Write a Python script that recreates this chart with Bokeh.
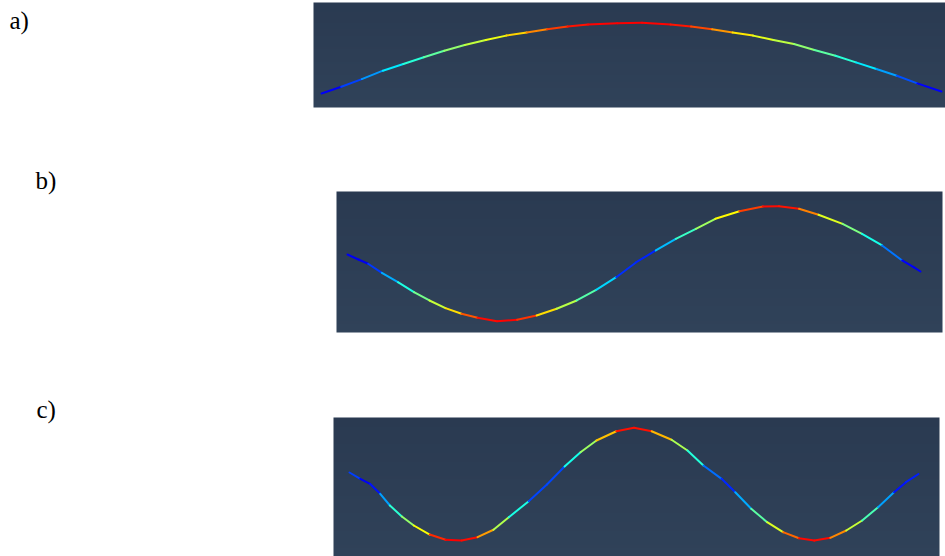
import numpy as np
from bokeh.plotting import figure
from bokeh.models import Range1d
from bokeh.core.properties import value
from bokeh.embed import file_html
from bokeh.resources import INLINE

# Mode shapes of a vibrating string, sampled along its length.
# station: position along the string (0 = left end, 1 = right end)
# deflection: vertical displacement, scaled so the largest is about 1
STATION_A = [0.000, 0.032, 0.065, 0.099, 0.132, 0.165, 0.198, 0.231, 0.265, 0.298,
             0.331, 0.364, 0.397, 0.430, 0.477, 0.517, 0.563, 0.596, 0.630, 0.663,
             0.696, 0.729, 0.762, 0.795, 0.829, 0.862, 0.895, 0.928, 0.961, 1.000]
DEFLECTION_A = [0.000, 0.096, 0.206, 0.326, 0.421, 0.517, 0.611, 0.693, 0.764, 0.827,
                0.870, 0.917, 0.956, 0.984, 1.004, 1.009, 0.984, 0.956, 0.917, 0.870,
                0.827, 0.764, 0.707, 0.621, 0.540, 0.444, 0.350, 0.254, 0.144, 0.029]
REST_A = [0.0, 0.03]

STATION_B = [0.000, 0.019, 0.036, 0.060, 0.088, 0.116, 0.143, 0.171, 0.199, 0.227,
             0.261, 0.296, 0.330, 0.365, 0.400, 0.434, 0.469, 0.504, 0.538, 0.573,
             0.608, 0.642, 0.684, 0.725, 0.753, 0.788, 0.822, 0.864, 0.898, 0.933,
             0.968, 0.988, 1.000]
DEFLECTION_B = [0.082, 0.000, -0.070, -0.218, -0.372, -0.536, -0.672, -0.798, -0.890, -0.956,
                -1.011, -0.989, -0.918, -0.808, -0.672, -0.497, -0.290, -0.044, 0.148, 0.339,
                0.503, 0.667, 0.792, 0.869, 0.874, 0.831, 0.733, 0.585, 0.421, 0.230,
                -0.016, -0.126, -0.197]
REST_B = [0.0, -0.115]

STATION_C = [0.000, 0.019, 0.036, 0.054, 0.071, 0.092, 0.113, 0.141, 0.169, 0.197,
             0.225, 0.253, 0.280, 0.315, 0.347, 0.378, 0.406, 0.434, 0.469, 0.500,
             0.531, 0.566, 0.594, 0.622, 0.654, 0.678, 0.706, 0.734, 0.762, 0.790,
             0.817, 0.845, 0.873, 0.901, 0.929, 0.957, 0.978, 1.000]
DEFLECTION_C = [0.158, 0.047, -0.040, -0.216, -0.421, -0.614, -0.772, -0.930, -1.023, -1.035,
                -0.977, -0.847, -0.626, -0.346, -0.053, 0.263, 0.514, 0.719, 0.882, 0.942,
                0.882, 0.732, 0.544, 0.281, 0.047, -0.188, -0.479, -0.714, -0.889, -0.995,
                -1.035, -0.988, -0.860, -0.684, -0.451, -0.188, -0.012, 0.132]
REST_C = [-0.045, -0.045]

PANEL_LABELS = ["a)", "b)", "c)"]

W, H = 945, 556
FONT = "Liberation Serif"

# colour scale: relative amplitude -> position on the jet colour map
AMP_STOPS = [0.0, 0.10, 0.40, 0.62, 0.82, 0.95, 1.0]
JET_STOPS = [0.09, 0.15, 0.375, 0.50, 0.625, 0.85, 0.88]


def jet(t):
    t = float(np.clip(t, 0.0, 1.0))
    r = np.clip(1.5 - abs(4 * t - 3), 0, 1)
    g = np.clip(1.5 - abs(4 * t - 2), 0, 1)
    b = np.clip(1.5 - abs(4 * t - 1), 0, 1)
    return "#%02x%02x%02x" % (int(r * 255), int(g * 255), int(b * 255))


def gradient(top, bottom, n):
    top = np.array([int(top[i:i + 2], 16) for i in (1, 3, 5)], dtype=float)
    bottom = np.array([int(bottom[i:i + 2], 16) for i in (1, 3, 5)], dtype=float)
    img = np.zeros((n, 1), dtype=np.uint32)
    view = img.view(dtype=np.uint8).reshape((n, 1, 4))
    for k in range(n):
        f = k / max(n - 1, 1)  # row 0 is the bottom of the panel
        c = bottom + (top - bottom) * f
        view[k, 0, 0:3] = np.round(c).astype(np.uint8)
        view[k, 0, 3] = 255
    return img


# page canvas in pixel units, used for the panel labels
p = figure(width=W, height=H, x_range=Range1d(0, W), y_range=Range1d(H, 0),
           output_backend="svg", toolbar_location=None, title=None,
           x_axis_location=None, y_axis_location=None,
           min_border=0, min_border_left=0, min_border_right=0,
           min_border_top=0, min_border_bottom=0)
p.outline_line_color = None
p.grid.visible = False
p.background_fill_color = "white"
p.border_fill_color = "white"


def add_panel(name, station, deflection, rest, box, curve, scale):
    # box: (left, right, top, bottom) of the panel on the page, in pixels
    # curve: pixel extent (left, right) of the string; scale: (rest level px, px per unit)
    bl, br, bt, bb = box
    cl, cr = curve
    zero_px, unit_px = scale
    span = cr - cl
    # each panel gets its own ranges spanning the whole canvas
    p.extra_x_ranges[name] = Range1d((0 - cl) / span, (W - cl) / span)
    p.extra_y_ranges[name] = Range1d((zero_px - H) / unit_px, zero_px / unit_px)

    x0 = (bl - cl) / span
    y0 = (zero_px - bb) / unit_px
    p.image_rgba(image=[gradient("#2a3a51", "#304259", bb - bt)],
                 x=x0, y=y0, dw=(br - bl) / span, dh=(bb - bt) / unit_px,
                 x_range_name=name, y_range_name=name)

    xs = np.asarray(station)
    ys = np.asarray(deflection)
    base = rest[0] + (rest[1] - rest[0]) * xs
    mag = np.abs(ys - base)
    mag = mag / mag.max()
    segmag = 0.5 * (mag[:-1] + mag[1:])
    colors = [jet(np.interp(m, AMP_STOPS, JET_STOPS)) for m in segmag]
    p.segment(x0=xs[:-1], y0=ys[:-1], x1=xs[1:], y1=ys[1:], line_color=colors,
              line_width=2, line_cap="round", x_range_name=name, y_range_name=name)


add_panel("a", STATION_A, DEFLECTION_A, REST_A,
          box=(313, 945, 2, 107), curve=(321, 941), scale=(93, 70))
add_panel("b", STATION_B, DEFLECTION_B, REST_B,
          box=(336, 942, 191, 332), curve=(347, 920), scale=(259, 61))
add_panel("c", STATION_C, DEFLECTION_C, REST_C,
          box=(333, 939, 417, 556), curve=(349, 918), scale=(481, 57))

p.text(x=[9, 35, 36], y=[20, 180, 409], text=PANEL_LABELS,
       text_font=value(FONT), text_font_size="25px", text_color="black",
       text_baseline="alphabetic", text_align="left")

open("out.html", "w").write(file_html(p, INLINE))
